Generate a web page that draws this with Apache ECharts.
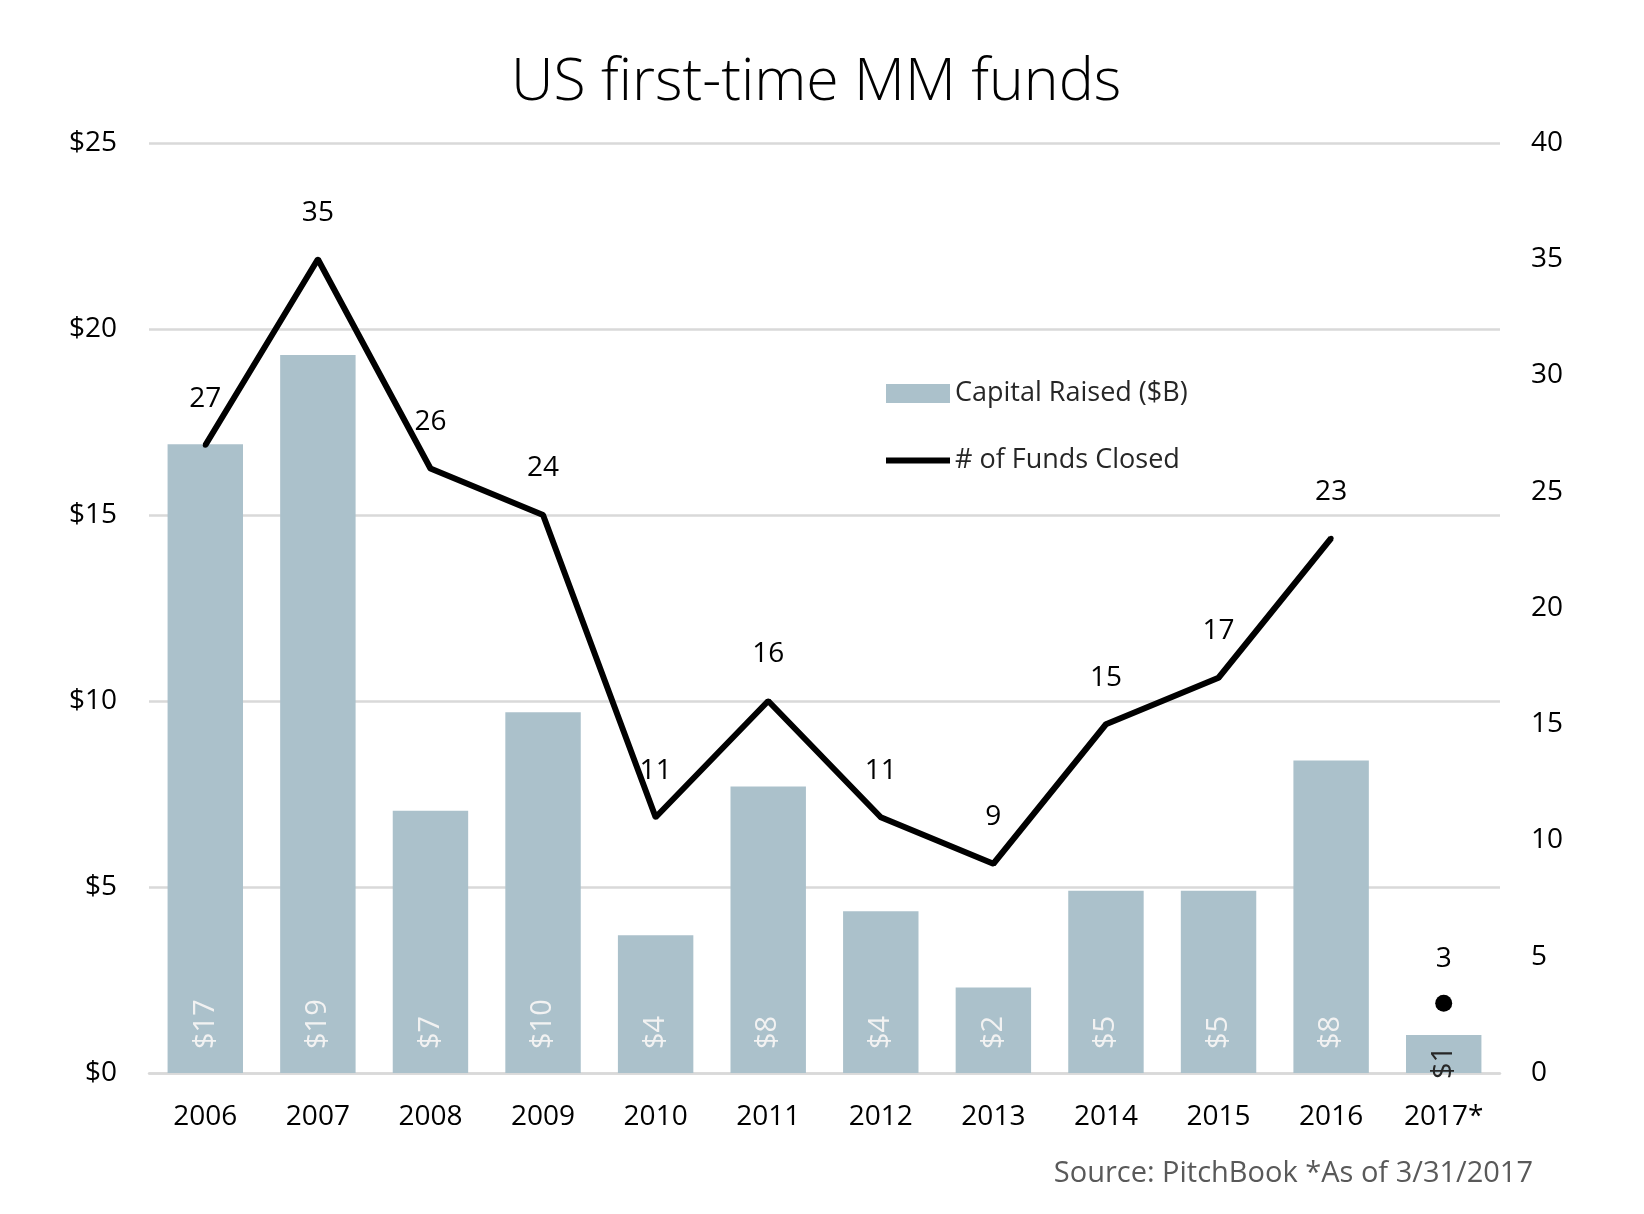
<!DOCTYPE html>
<html>
<head>
<meta charset="utf-8">
<title>US first-time MM funds</title>
<script src="https://cdn.jsdelivr.net/npm/echarts@6/dist/echarts.min.js"></script>
<style>
  html, body { margin: 0; padding: 0; background: #ffffff; }
  #chart { width: 1644px; height: 1214px; }
</style>
</head>
<body>
<div id="chart"></div>
<script>
// values
var years = ['2006', '2007', '2008', '2009', '2010', '2011', '2012', '2013', '2014', '2015', '2016', '2017*'];
var capitalRaised = [16.9, 19.3, 7.05, 9.7, 3.7, 7.7, 4.35, 2.3, 4.9, 4.9, 8.4, 1.02];
var fundsClosed = [27, 35, 26, 24, 11, 16, 11, 9, 15, 17, 23, 3];
var leftTicks = [0, 25, 5];   // min, max, step ($B)
var rightTicks = [0, 40, 5];  // min, max, step (count)

var FONT = '"Open Sans", "Noto Sans", sans-serif';
var last = years.length - 1;

// full years are joined by the line, the partial year is a lone dot
var lineData = fundsClosed.map(function (v, i) { return i < last ? v : '-'; });
var dotData = [[years[last], fundsClosed[last]]];

var barData = capitalRaised.map(function (v, i) {
  if (i === last) {
    // bar too short, label sits over the base in dark text
    return { value: v, label: { color: '#262626', distance: -6 } };
  }
  return v;
});

var myChart = echarts.init(document.getElementById('chart'));
var option = {
  backgroundColor: '#ffffff',
  animation: false,
  title: [{
    text: 'US first-time MM funds',
    left: 506,
    top: 49,
    textStyle: { fontFamily: FONT, fontSize: 59, fontWeight: 300, color: '#000' }
  }, {
    text: 'Source: PitchBook *As of 3/31/2017',
    right: 106,
    top: 1154,
    textStyle: { fontFamily: FONT, fontSize: 29, fontWeight: 'normal', color: '#595959' }
  }],
  legend: {
    orient: 'vertical',
    left: 878,
    top: 375,
    itemWidth: 64,
    itemHeight: 19,
    itemGap: 40,
    textStyle: { fontFamily: FONT, fontSize: 27, color: '#262626' },
    data: [
      { name: 'Capital Raised ($B)', icon: 'rect' },
      { name: '# of Funds Closed', itemStyle: { opacity: 0 }, lineStyle: { width: 6, color: '#000' } }
    ]
  },
  grid: { left: 149, right: 144, top: 143, bottom: 141 },
  xAxis: {
    type: 'category',
    data: years,
    axisTick: { show: false },
    axisLine: { lineStyle: { color: '#d9d9d9', width: 2.5 } },
    axisLabel: { margin: 30, fontFamily: FONT, fontSize: 28, color: '#000' }
  },
  yAxis: [{
    type: 'value',
    min: leftTicks[0],
    max: leftTicks[1],
    interval: leftTicks[2],
    axisLine: { show: false },
    axisTick: { show: false },
    splitLine: { lineStyle: { color: '#d9d9d9', width: 2.5 } },
    axisLabel: {
      margin: 32, fontFamily: FONT, fontSize: 28, color: '#000',
      formatter: function (v) { return '$' + v; }
    }
  }, {
    type: 'value',
    min: rightTicks[0],
    max: rightTicks[1],
    interval: rightTicks[2],
    axisLine: { show: false },
    axisTick: { show: false },
    splitLine: { show: false },
    axisLabel: { margin: 31, fontFamily: FONT, fontSize: 28, color: '#000' }
  }],
  series: [{
    name: 'Capital Raised ($B)',
    type: 'bar',
    yAxisIndex: 0,
    barCategoryGap: '33%',
    itemStyle: { color: '#abc1cb' },
    label: {
      show: true,
      position: 'insideBottom',
      rotate: 90,
      align: 'left',
      verticalAlign: 'middle',
      distance: 24,
      fontFamily: FONT,
      fontSize: 29,
      fontWeight: 'normal',
      color: '#f2f2f2',
      formatter: function (p) { return '$' + Math.round(p.value); }
    },
    data: barData
  }, {
    name: '# of Funds Closed',
    type: 'line',
    yAxisIndex: 1,
    symbol: 'circle',
    symbolSize: 5,
    itemStyle: { color: '#000' },
    lineStyle: { color: '#000', width: 6 },
    label: {
      show: true,
      position: 'top',
      distance: 30,
      fontFamily: FONT,
      fontSize: 28,
      color: '#000'
    },
    data: lineData
  }, {
    name: 'partial year',
    type: 'scatter',
    yAxisIndex: 1,
    symbol: 'circle',
    symbolSize: 17,
    itemStyle: { color: '#000', opacity: 1 },
    label: {
      show: true,
      position: 'top',
      distance: 22,
      fontFamily: FONT,
      fontSize: 28,
      color: '#000',
      formatter: function (p) { return p.value[1]; }
    },
    data: dotData
  }]
};
myChart.setOption(option);
</script>
</body>
</html>
